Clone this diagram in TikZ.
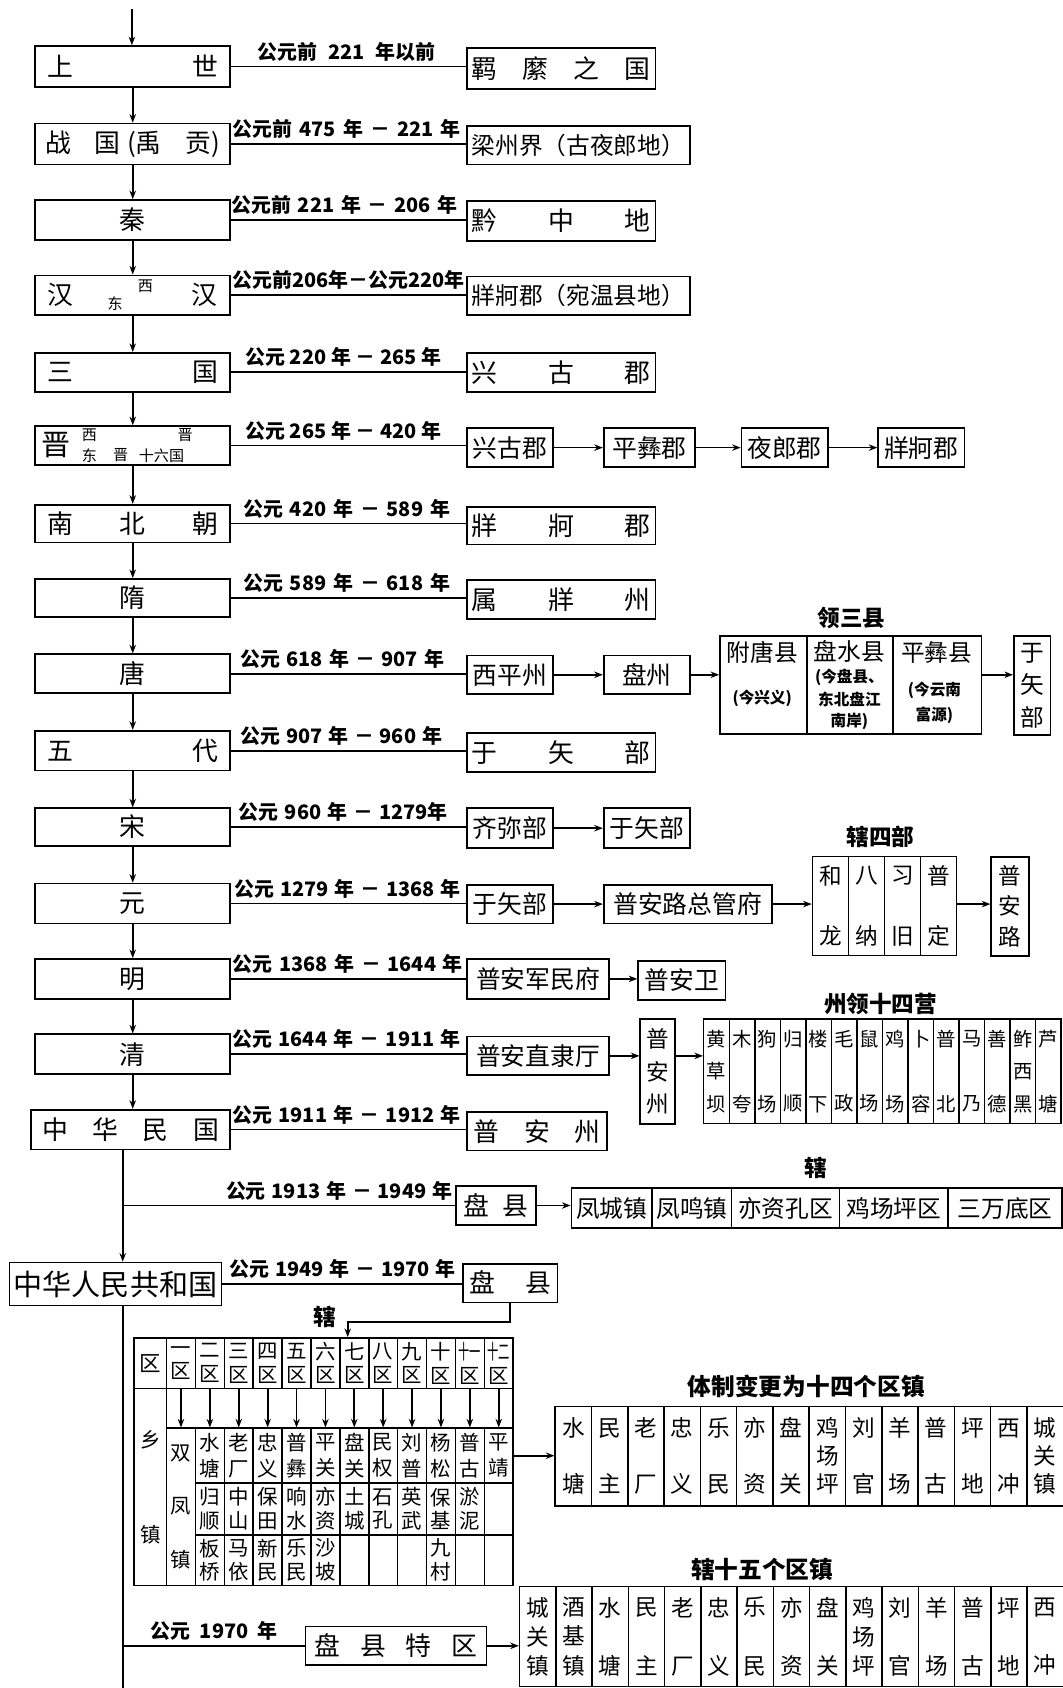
\documentclass[tikz,border=0pt]{standalone}
\usepackage{fontspec}
\usepackage{graphicx}
\newfontfamily\cjk{Noto Sans CJK SC}
\usetikzlibrary{arrows.meta}
\newcommand\E{\phantom{口}}
\newcommand\sq[1]{\scalebox{0.55}[1]{#1}}
\newcommand\bx[7][]{\node[box,minimum width={#5-#3},minimum height={#6-#4},#1] (#2) at (#3,#4) {#7};}
\begin{document}
\begin{tikzpicture}[x=1pt,y=-1pt,
 box/.style={draw,line width=1.6pt,inner sep=0pt,anchor=north west,align=center,font=\cjk\fontsize{24}{24}\selectfont},
 cell/.style={box,line width=1.4pt},
 txt/.style={inner sep=0pt,font=\cjk\fontsize{24}{24}\selectfont},
 smalltxt/.style={inner sep=0pt,font=\cjk\fontsize{14}{14}\selectfont},
 subtxt/.style={inner sep=0pt,font=\cjk\bfseries\fontsize{14.5}{14.5}\selectfont},
 lab/.style={anchor=south,inner sep=0pt,font=\cjk\bfseries\fontsize{18.5}{18.5}\selectfont},
 ttl/.style={inner sep=0pt,font=\cjk\bfseries\fontsize{21}{21}\selectfont},
 ln/.style={line width=1.6pt},
 arr/.style={line width=1.6pt,-{Stealth[length=8pt,width=6pt]}},
]
\fill[white] (0,0) rectangle (987,1568);
\useasboundingbox (0,0) rectangle (987,1568);

% ---------- left column ----------
\bx{L1}{32}{42}{213}{80}{\hbox to 159pt{上\hfill 世}}
\bx{L2}{32}{114}{213}{152}{\hbox to 162pt{战\hfill 国\hskip6pt(禹\hfill 贡)}}
\bx{L3}{32}{185}{213}{222}{秦}
\bx{L4}{32}{255}{213}{292}{}
\node[txt] (L4a) at (56,274) {汉};
\node[smalltxt] (L4b) at (107,282) {东};
\node[smalltxt] (L4c) at (135,266) {西};
\node[txt] (L4d) at (190,274) {汉};
\bx{L5}{32}{327}{213}{363}{\hbox to 159pt{三\hfill 国}}
\bx{L6}{32}{395}{213}{431}{}
\node[txt,font=\cjk\fontsize{27}{27}\selectfont] (L6a) at (52,413) {晋};
\node[smalltxt] (L6b) at (83,404) {西};
\node[smalltxt] (L6c) at (172,404) {晋};
\node[smalltxt] (L6d) at (83,423) {东};
\node[smalltxt] (L6e) at (112,423) {晋};
\node[smalltxt] (L6f) at (150,423) {十六国};
\bx{L7}{32}{468}{213}{503}{\hbox to 159pt{南\hfill 北\hfill 朝}}
\bx{L8}{32}{537}{213}{572}{隋}
\bx{L9}{32}{607}{213}{643}{唐}
\bx{L10}{32}{678}{213}{715}{\hbox to 159pt{五\hfill 代}}
\bx{L11}{32}{750}{213}{785}{宋}
\bx{L12}{32}{820}{213}{857}{元}
\bx{L13}{32}{890}{213}{927}{明}
\bx{L14}{32}{960}{213}{997}{清}
\bx{L15}{28}{1030}{213}{1067}{\hbox to 164pt{中\hfill 华\hfill 民\hfill 国}}
\bx[font=\cjk\fontsize{27}{27}\selectfont]{L16}{8}{1172}{205}{1212}{中华人民共和国}

\coordinate (top) at (122.5,8);
\draw[arr] (top) -- (top |- L1.north);
\foreach \ta/\tb in {L1/L2,L2/L3,L3/L4,L4/L5,L5/L6,L6/L7,L7/L8,L8/L9,L9/L10,L10/L11,L11/L12,L12/L13,L13/L14,L14/L15}
  \draw[arr] (\ta.south) -- (\ta.south |- \tb.north);

% ---------- right boxes ----------
\bx{R1}{433}{44}{608}{82}{\hbox to 166pt{羁\hfill 縻\hfill 之\hfill 国}}
\bx[font=\cjk\fontsize{22}{22}\selectfont]{R2}{433}{116}{640}{152}{梁州界（古夜郎地）}
\bx{R3}{433}{186}{608}{223}{\hbox to 166pt{黔\hfill 中\hfill 地}}
\bx[font=\cjk\fontsize{22}{22}\selectfont]{R4}{433}{256}{640}{292}{牂牁郡（宛温县地）}
\bx{R5}{433}{327}{608}{363}{\hbox to 166pt{兴\hfill 古\hfill 郡}}
\bx[font=\cjk\fontsize{23}{23}\selectfont]{R6a}{433}{397}{513}{433}{兴古郡}
\bx[font=\cjk\fontsize{23}{23}\selectfont]{R6b}{560}{397}{645}{433}{平彝郡}
\bx[font=\cjk\fontsize{23}{23}\selectfont]{R6c}{688}{397}{768}{433}{夜郎郡}
\bx[font=\cjk\fontsize{23}{23}\selectfont]{R6d}{815}{397}{895}{433}{牂牁郡}
\bx{R7}{433}{470}{608}{505}{\hbox to 166pt{牂\hfill 牁\hfill 郡}}
\bx{R8}{433}{538}{608}{574}{\hbox to 166pt{属\hfill 牂\hfill 州}}
\bx[font=\cjk\fontsize{23}{23}\selectfont]{R9a}{433}{608}{513}{644}{西平州}
\bx[font=\cjk\fontsize{23}{23}\selectfont]{R9b}{560}{608}{640}{644}{盘州}
\bx{R10}{433}{680}{608}{716}{\hbox to 166pt{于\hfill 矢\hfill 部}}
\bx[font=\cjk\fontsize{23}{23}\selectfont]{R11a}{433}{750}{513}{787}{齐弥部}
\bx[font=\cjk\fontsize{23}{23}\selectfont]{R11b}{560}{750}{640}{787}{于矢部}
\bx[font=\cjk\fontsize{23}{23}\selectfont]{R12a}{433}{821}{513}{857}{于矢部}
\bx[font=\cjk\fontsize{23}{23}\selectfont]{R12b}{560}{821}{716}{857}{普安路总管府}
\bx[font=\cjk\fontsize{23}{23}\selectfont]{R13a}{433}{890}{565}{927}{普安军民府}
\bx[font=\cjk\fontsize{23}{23}\selectfont]{R13b}{592}{892}{673}{928}{普安卫}
\bx[font=\cjk\fontsize{23}{23}\selectfont]{R14a}{433}{962}{565}{998}{普安直隶厅}
\bx{R15}{433}{1032}{563}{1068}{\hbox to 118pt{普\hfill 安\hfill 州}}

\foreach \ta/\tb in {L1/R1,L2/R2,L3/R3,L4/R4,L5/R5,L6/R6a,L7/R7,L8/R8,L9/R9a,L10/R10,L11/R11a,L12/R12a,L13/R13a,L14/R14a,L15/R15}
  \draw[ln] (\ta.east) -- (\ta.east -| \tb.west);
\foreach \ta/\tb in {R6a/R6b,R6b/R6c,R6c/R6d,R9a/R9b,R11a/R11b,R12a/R12b,R13a/R13b}
  \draw[arr] (\ta.east) -- (\ta.east -| \tb.west);

% ---------- date labels ----------
\node[lab] (d1) at (322,57) {\makebox[165pt][s]{公元前 221 年以前}};
\node[lab] (d2) at (322,129) {\makebox[212pt][s]{公元前 475 年 － 221 年}};
\node[lab] (d3) at (320,199.5) {\makebox[210pt][s]{公元前 221 年 － 206 年}};
\node[lab] (d4) at (324,269.5) {\makebox[216pt][s]{公元前206年－公元220年}};
\node[lab] (d5) at (319,341) {\makebox[182pt][s]{公元 220 年 － 265 年}};
\node[lab] (d6) at (319,409) {\makebox[182pt][s]{公元 265 年 － 420 年}};
\node[lab] (d7) at (322,481.5) {\makebox[192pt][s]{公元 420 年 － 589 年}};
\node[lab] (d8) at (322,550.5) {\makebox[192pt][s]{公元 589 年 － 618 年}};
\node[lab] (d9) at (318,621) {\makebox[189pt][s]{公元 618 年 － 907 年}};
\node[lab] (d10) at (317,692.5) {\makebox[187pt][s]{公元 907 年 － 960 年}};
\node[lab] (d11) at (319,763.5) {\makebox[194pt][s]{公元 960 年 － 1279年}};
\node[lab] (d12) at (323,834.5) {\makebox[210pt][s]{公元 1279 年 － 1368 年}};
\node[lab] (d13) at (323,904.5) {\makebox[214pt][s]{公元 1368 年 － 1644 年}};
\node[lab] (d14) at (322,974.5) {\makebox[212pt][s]{公元 1644 年 － 1911 年}};
\node[lab] (d15) at (322,1044.5) {\makebox[212pt][s]{公元 1911 年 － 1912 年}};
\node[lab] (d16) at (315,1115) {\makebox[210pt][s]{公元 1913 年 － 1949 年}};
\node[lab] (d17) at (318,1188) {\makebox[210pt][s]{公元 1949 年 － 1970 年}};
\node[lab] (d18) at (199,1524) {\makebox[118pt][s]{公元 1970 年}};

% ---------- Tang: three counties ----------
\node[ttl] (S0) at (791,574) {领三县};
\bx[cell]{S1}{668}{590}{749}{681}{}
\bx[cell]{S2}{749}{590}{829}{681}{}
\bx[cell]{S3}{829}{590}{911}{681}{}
\node[txt,font=\cjk\fontsize{22}{22}\selectfont] (S1a) at (708,606) {附唐县};
\node[subtxt] (S1b) at (708,649) {(今兴义)};
\node[txt,font=\cjk\fontsize{22}{22}\selectfont] (S2a) at (789,605) {盘水县};
\node[subtxt] (S2b) at (789,629) {(今盘县、};
\node[subtxt] (S2c) at (789,650) {东北盘江};
\node[subtxt] (S2d) at (789,670) {南岸)};
\node[txt,font=\cjk\fontsize{22}{22}\selectfont] (S3a) at (870,606) {平彝县};
\node[subtxt] (S3b) at (868,641) {(今云南};
\node[subtxt] (S3c) at (868,664) {富源)};
\bx[font=\cjk\fontsize{22}{30}\selectfont]{R9y}{941}{590}{975}{682}{于\\矢\\部}
\draw[arr] (R9b.east) -- (R9b.east -| S1.west);
\draw[arr] (R9b.east -| S3.east) -- (R9b.east -| R9y.west);

% ---------- Yuan: four tribes ----------
\node[ttl] (Q0) at (818,777) {辖四部};
\foreach \ta/\tb/\tc [count=\i] in {和/\E/龙,八/\E/纳,习/\E/旧,普/\E/定}{
  \pgfmathsetmacro\xx{754+(\i-1)*33.5}
  \node[cell,minimum width=33.5,minimum height=92,font=\cjk\fontsize{21}{28}\selectfont] (Q\i) at (\xx,795) {\ta\\\tb\\\tc};
}
\bx[font=\cjk\fontsize{21}{28}\selectfont]{R12p}{920}{795}{955}{887}{普\\安\\路}
\draw[arr] (R12b.east) -- (R12b.east -| Q1.west);
\draw[arr] (R12b.east -| Q4.east) -- (R12b.east -| R12p.west);

% ---------- Qing: fourteen camps ----------
\bx[font=\cjk\fontsize{21}{30}\selectfont]{R14p}{594}{946}{626}{1043}{普\\安\\州}
\node[ttl] (Y0) at (818,933) {州领十四营};
\foreach \ta/\tb/\tc [count=\i] in {黄/草/坝,木/\E/夸,狗/\E/场,归/\E/顺,楼/\E/下,毛/\E/政,鼠/\E/场,鸡/\E/场,卜/\E/容,普/\E/北,马/\E/乃,善/\E/德,鲊/西/黑,芦/\E/塘}{
  \pgfmathsetmacro\xx{653+(\i-1)*23.714}
  \node[cell,minimum width=23.714,minimum height=97,font=\cjk\fontsize{18}{30}\selectfont] (Y\i) at (\xx,946) {\ta\\\tb\\\tc};
}
\draw[arr] (R14a.east) -- (R14a.east -| R14p.west);
\draw[arr] (R14a.east -| R14p.east) -- (R14a.east -| Y1.west);

% ---------- Republic / PRC ----------
\coordinate (vx) at (114,0);
\draw[arr] (L15.south -| vx) -- (vx |- L16.north);
\draw[ln] (vx |- L16.south) -- (114,1568);

\bx{P1}{423}{1101}{497}{1137}{\hbox to 60pt{盘\hfill 县}}
\draw[ln] (vx |- P1.west) -- (P1.west);
\node[ttl] (Z0) at (758,1085) {辖};
\bx[cell,font=\cjk\fontsize{22}{22}\selectfont]{Z1}{530}{1103}{605}{1140}{凤城镇}
\bx[cell,font=\cjk\fontsize{22}{22}\selectfont]{Z2}{605}{1103}{679}{1140}{凤鸣镇}
\bx[cell,font=\cjk\fontsize{22}{22}\selectfont]{Z3}{679}{1103}{779}{1140}{亦资孔区}
\bx[cell,font=\cjk\fontsize{22}{22}\selectfont]{Z4}{779}{1103}{880}{1140}{鸡场坪区}
\bx[cell,font=\cjk\fontsize{22}{22}\selectfont]{Z5}{880}{1103}{986}{1140}{三万底区}
\draw[arr] (P1.east) -- (P1.east -| Z1.west);

\bx{P2}{429}{1173}{517}{1209}{\hbox to 76pt{盘\hfill 县}}
\draw[ln] (L16.east) -- (L16.east -| P2.west);

% ---------- district table ----------
\node[cell,minimum width=30,minimum height=47,font=\cjk\fontsize{20}{20}\selectfont] (H0) at (124,1242) {区};
\foreach \ta [count=\i] in {一,二,三,四,五,六,七,八,九,十,\sq{十一},\sq{十二}} {
  \pgfmathsetmacro\xx{154+(\i-1)*26.833}
  \node[cell,minimum width=26.833,minimum height=47,font=\cjk\fontsize{19}{22}\selectfont] (H\i) at (\xx,1242) {\ta\\区};
}
\node[cell,minimum width=30,minimum height=183,font=\cjk\fontsize{19}{22}\selectfont] (X) at (124,1289) {乡\\[66pt]镇};
\node[cell,minimum width=322,minimum height=37] (A) at (154,1289) {};
\node[cell,minimum width=26.833,minimum height=146,font=\cjk\fontsize{19}{50}\selectfont] (D) at (154,1326) {双\\凤\\镇};
\foreach \ta/\tb [count=\i from 2] in {水/塘,老/厂,忠/义,普/彝,平/关,盘/关,民/权,刘/普,杨/松,普/古,平/靖} {
  \pgfmathsetmacro\xx{154+(\i-1)*26.833}
  \node[cell,minimum width=26.833,minimum height=51,font=\cjk\fontsize{19}{24}\selectfont] (r3c\i) at (\xx,1326) {\ta\\\tb};
}
\foreach \ta/\tb [count=\i from 2] in {归/顺,中/山,保/田,响/水,亦/资,土/城,石/孔,英/武,保/基,淤/泥,\E/\E} {
  \pgfmathsetmacro\xx{154+(\i-1)*26.833}
  \node[cell,minimum width=26.833,minimum height=48,font=\cjk\fontsize{19}{22}\selectfont] (r4c\i) at (\xx,1377) {\ta\\\tb};
}
\foreach \ta/\tb [count=\i from 2] in {板/桥,马/依,新/民,乐/民,沙/坡,\E/\E,\E/\E,\E/\E,九/村,\E/\E,\E/\E} {
  \pgfmathsetmacro\xx{154+(\i-1)*26.833}
  \node[cell,minimum width=26.833,minimum height=47,font=\cjk\fontsize{19}{22}\selectfont] (r5c\i) at (\xx,1425) {\ta\\\tb};
}
\draw[arr] (H1.south) -- (H1.south |- D.north);
\foreach \i in {2,...,12} \draw[arr] (H\i.south) -- (r3c\i.north);

\node[ttl] (K0) at (302,1223) {辖};
\coordinate (k) at (323,1228);
\draw[arr] (P2.south) |- (k) -- (k |- H7.north);

% ---------- fourteen districts ----------
\node[ttl,font=\cjk\bfseries\fontsize{22}{22}\selectfont] (M0) at (749,1288) {体制变更为十四个区镇};
\foreach \ta/\tb/\tc [count=\i] in {水/\E/塘,民/\E/主,老/\E/厂,忠/\E/义,乐/\E/民,亦/\E/资,盘/\E/关,鸡/场/坪,刘/\E/官,羊/\E/场,普/\E/古,坪/\E/地,西/\E/冲,城/关/镇}{
  \pgfmathsetmacro\xx{515+(\i-1)*33.714}
  \node[cell,minimum width=33.714,minimum height=92,font=\cjk\fontsize{21}{26}\selectfont] (M\i) at (\xx,1306) {\ta\\\tb\\\tc};
}
\draw[arr] (r3c12.east) -- (r3c12.east -| M1.west);

% ---------- 1970 ----------
\bx{P3}{283}{1510}{451}{1546}{\hbox to 152pt{盘\hfill 县\hfill 特\hfill 区}}
\draw[ln] (vx |- P3.west) -- (P3.west);
\node[ttl,font=\cjk\bfseries\fontsize{22}{22}\selectfont] (W0) at (708,1458) {辖十五个区镇};
\foreach \ta/\tb/\tc [count=\i] in {城/关/镇,酒/基/镇,水/\E/塘,民/\E/主,老/\E/厂,忠/\E/义,乐/\E/民,亦/\E/资,盘/\E/关,鸡/场/坪,刘/\E/官,羊/\E/场,普/\E/古,坪/\E/地,西/\E/冲}{
  \pgfmathsetmacro\xx{482+(\i-1)*33.667}
  \node[cell,minimum width=33.667,minimum height=93,font=\cjk\fontsize{21}{27}\selectfont] (W\i) at (\xx,1473) {\ta\\\tb\\\tc};
}
\draw[arr] (P3.east) -- (P3.east -| W1.west);
\end{tikzpicture}
\end{document}
